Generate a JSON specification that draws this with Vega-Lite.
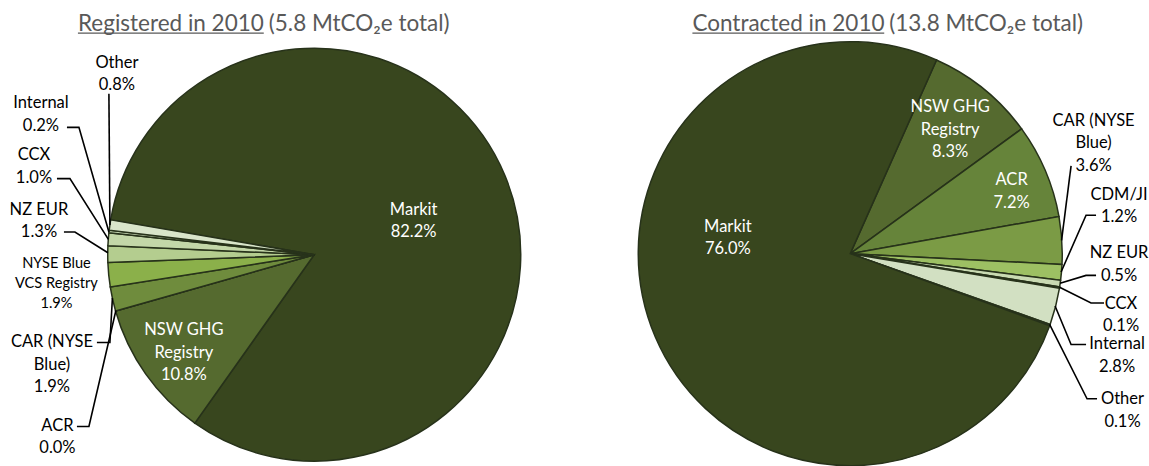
{
  "$schema": "https://vega.github.io/schema/vega-lite/v6.json",
  "width": 1149,
  "height": 466,
  "padding": 0,
  "autosize": {"type": "fit", "contains": "padding"},
  "background": "white",
  "config": {"view": {"stroke": null}},
  "datasets": {
    "registered": [
      {"registry": "Markit", "share": 82.2, "rank": 1},
      {"registry": "NSW GHG Registry", "share": 10.8, "rank": 2},
      {"registry": "ACR", "share": 0.0, "rank": 3},
      {"registry": "CAR (NYSE Blue)", "share": 1.9, "rank": 4},
      {"registry": "NYSE Blue VCS Registry", "share": 1.9, "rank": 5},
      {"registry": "NZ EUR", "share": 1.3, "rank": 6},
      {"registry": "CCX", "share": 1.0, "rank": 7},
      {"registry": "Internal", "share": 0.2, "rank": 8},
      {"registry": "Other", "share": 0.8, "rank": 9}
    ],
    "contracted": [
      {"registry": "NSW GHG Registry", "share": 8.3, "rank": 1},
      {"registry": "ACR", "share": 7.2, "rank": 2},
      {"registry": "CAR (NYSE Blue)", "share": 3.6, "rank": 3},
      {"registry": "CDM/JI", "share": 1.2, "rank": 4},
      {"registry": "NZ EUR", "share": 0.5, "rank": 5},
      {"registry": "CCX", "share": 0.1, "rank": 6},
      {"registry": "Internal", "share": 2.8, "rank": 7},
      {"registry": "Other", "share": 0.1, "rank": 8},
      {"registry": "Markit", "share": 76.0, "rank": 9}
    ],
    "labels": [
      {"label": "Markit\n82.2%", "x": 414, "y": 212.5, "kind": "inside"},
      {"label": "NSW GHG\nRegistry\n10.8%", "x": 184, "y": 334.5, "kind": "inside"},
      {"label": "Other\n0.8%", "x": 117, "y": 63.5, "kind": "outside"},
      {"label": "Internal\n0.2%", "x": 41, "y": 104.5, "kind": "outside"},
      {"label": "CCX\n1.0%", "x": 34, "y": 157.5, "kind": "outside"},
      {"label": "NZ EUR\n1.3%", "x": 39, "y": 212.5, "kind": "outside"},
      {"label": "NYSE Blue\nVCS Registry\n1.9%", "x": 56.5, "y": 267.5, "kind": "small"},
      {"label": "CAR (NYSE\nBlue)\n1.9%", "x": 52, "y": 346.5, "kind": "outside"},
      {"label": "ACR\n0.0%", "x": 57.5, "y": 431.5, "kind": "outside"},
      {"label": "Markit\n76.0%", "x": 728.5, "y": 229.5, "kind": "inside"},
      {"label": "NSW GHG\nRegistry\n8.3%", "x": 951, "y": 108.5, "kind": "inside"},
      {"label": "ACR\n7.2%", "x": 1012.5, "y": 182.5, "kind": "inside"},
      {"label": "CAR (NYSE\nBlue)\n3.6%", "x": 1094.5, "y": 122.5, "kind": "outside"},
      {"label": "CDM/JI\n1.2%", "x": 1120, "y": 197.5, "kind": "outside"},
      {"label": "NZ EUR\n0.5%", "x": 1120, "y": 256.5, "kind": "outside"},
      {"label": "CCX\n0.1%", "x": 1122, "y": 307.5, "kind": "outside"},
      {"label": "Internal\n2.8%", "x": 1118, "y": 348.5, "kind": "outside"},
      {"label": "Other\n0.1%", "x": 1123.5, "y": 404.5, "kind": "outside"}
    ],
    "leaders": [
      {"id": "L-Other", "i": 1, "x": 109, "y": 95},
      {"id": "L-Other", "i": 2, "x": 110, "y": 228},
      {"id": "L-Internal", "i": 1, "x": 67, "y": 129},
      {"id": "L-Internal", "i": 2, "x": 79, "y": 129},
      {"id": "L-Internal", "i": 3, "x": 109, "y": 235},
      {"id": "L-CCX", "i": 1, "x": 57, "y": 181},
      {"id": "L-CCX", "i": 2, "x": 70, "y": 181},
      {"id": "L-CCX", "i": 3, "x": 108.5, "y": 242.5},
      {"id": "L-NZ", "i": 1, "x": 64, "y": 235},
      {"id": "L-NZ", "i": 2, "x": 75, "y": 235},
      {"id": "L-NZ", "i": 3, "x": 108, "y": 256},
      {"id": "L-CAR", "i": 1, "x": 97, "y": 347},
      {"id": "L-CAR", "i": 2, "x": 110, "y": 347},
      {"id": "L-CAR", "i": 3, "x": 112.5, "y": 302},
      {"id": "L-ACR", "i": 1, "x": 77, "y": 432},
      {"id": "L-ACR", "i": 2, "x": 89, "y": 432},
      {"id": "L-ACR", "i": 3, "x": 116, "y": 314.5},
      {"id": "R-CAR", "i": 1, "x": 1072, "y": 168},
      {"id": "R-CAR", "i": 2, "x": 1062.5, "y": 243.5},
      {"id": "R-CDM", "i": 1, "x": 1097, "y": 218},
      {"id": "R-CDM", "i": 2, "x": 1087, "y": 218},
      {"id": "R-CDM", "i": 3, "x": 1062, "y": 275.5},
      {"id": "R-NZ", "i": 1, "x": 1097, "y": 279},
      {"id": "R-NZ", "i": 2, "x": 1087, "y": 279},
      {"id": "R-NZ", "i": 3, "x": 1061, "y": 287},
      {"id": "R-CCX", "i": 1, "x": 1060.5, "y": 291},
      {"id": "R-CCX", "i": 2, "x": 1092, "y": 307},
      {"id": "R-CCX", "i": 3, "x": 1105, "y": 307},
      {"id": "R-Internal", "i": 1, "x": 1056, "y": 310},
      {"id": "R-Internal", "i": 2, "x": 1072, "y": 349},
      {"id": "R-Internal", "i": 3, "x": 1087, "y": 349},
      {"id": "R-Other", "i": 1, "x": 1050.5, "y": 328.5},
      {"id": "R-Other", "i": 2, "x": 1088, "y": 404},
      {"id": "R-Other", "i": 3, "x": 1098, "y": 404}
    ],
    "titles": [
      {"t": "Registered in 2010", "x": 78, "x2": 264, "y": 31, "uy": 33.5, "u": true},
      {"t": "(5.8 MtCO₂e total)", "x": 269, "y": 31, "u": false},
      {"t": "Contracted in 2010", "x": 693, "x2": 885, "y": 31, "uy": 33.5, "u": true},
      {"t": "(13.8 MtCO₂e total)", "x": 890, "y": 31, "u": false}
    ]
  },
  "layer": [
    {
      "data": {"name": "registered"},
      "mark": {"type": "arc", "outerRadius": 206.5, "stroke": "#27321a", "strokeWidth": 1.5},
      "encoding": {
        "x": {"datum": 314.5, "type": "quantitative", "scale": {"domain": [0, 1149], "nice": false, "zero": false}, "axis": null},
        "y": {"datum": 258, "type": "quantitative", "scale": {"domain": [0, 466], "nice": false, "zero": false, "reverse": true}, "axis": null},
        "theta": {"field": "share", "type": "quantitative", "stack": true, "scale": {"range": [4.8817, 11.1649]}},
        "order": {"field": "rank", "type": "quantitative"},
        "color": {
          "field": "registry", "type": "nominal", "legend": null,
          "scale": {
            "domain": ["Markit", "NSW GHG Registry", "ACR", "CAR (NYSE Blue)", "NYSE Blue VCS Registry", "NZ EUR", "CCX", "Internal", "Other"],
            "range": ["#38461e", "#556a2f", "#66843a", "#6f8c3d", "#8bb04a", "#b4cd8f", "#c3d7a8", "#cddeb9", "#d9e5ca"]
          }
        }
      }
    },
    {
      "data": {"name": "contracted"},
      "mark": {"type": "arc", "outerRadius": 212, "stroke": "#27321a", "strokeWidth": 1.5},
      "encoding": {
        "x": {"datum": 851, "type": "quantitative"},
        "y": {"datum": 257, "type": "quantitative"},
        "theta": {"field": "share", "type": "quantitative", "stack": true, "scale": {"range": [0.41888, 6.70206]}},
        "order": {"field": "rank", "type": "quantitative"},
        "color": {
          "field": "registry", "type": "nominal", "legend": null,
          "scale": {
            "domain": ["Markit", "NSW GHG Registry", "ACR", "CAR (NYSE Blue)", "CDM/JI", "NZ EUR", "CCX", "Internal", "Other"],
            "range": ["#38461e", "#556a2f", "#66843a", "#7b9b45", "#9dc063", "#c9dab2", "#bfd3a0", "#d2e0c2", "#dde8d0"]
          }
        }
      }
    },
    {
      "data": {"name": "leaders"},
      "mark": {"type": "line", "stroke": "#000000", "strokeWidth": 1.6, "strokeJoin": "miter", "interpolate": "linear"},
      "encoding": {
        "x": {"field": "x", "type": "quantitative"},
        "y": {"field": "y", "type": "quantitative"},
        "detail": {"field": "id", "type": "nominal"},
        "order": {"field": "i", "type": "quantitative"}
      }
    },
    {
      "data": {"name": "labels"},
      "transform": [{"filter": "datum.kind == 'inside'"}],
      "mark": {"type": "text", "lineBreak": "\n", "lineHeight": 22.5, "font": "Lato", "fontSize": 16.5, "align": "center", "baseline": "middle", "color": "#ffffff"},
      "encoding": {
        "x": {"field": "x", "type": "quantitative"},
        "y": {"field": "y", "type": "quantitative"},
        "text": {"field": "label", "type": "nominal"}
      }
    },
    {
      "data": {"name": "labels"},
      "transform": [{"filter": "datum.kind == 'outside'"}],
      "mark": {"type": "text", "lineBreak": "\n", "lineHeight": 22.5, "font": "Lato", "fontSize": 16.5, "align": "center", "baseline": "middle", "color": "#000000"},
      "encoding": {
        "x": {"field": "x", "type": "quantitative"},
        "y": {"field": "y", "type": "quantitative"},
        "text": {"field": "label", "type": "nominal"}
      }
    },
    {
      "data": {"name": "labels"},
      "transform": [{"filter": "datum.kind == 'small'"}],
      "mark": {"type": "text", "lineBreak": "\n", "lineHeight": 20, "font": "Lato", "fontSize": 14.6, "align": "center", "baseline": "middle", "color": "#000000"},
      "encoding": {
        "x": {"field": "x", "type": "quantitative"},
        "y": {"field": "y", "type": "quantitative"},
        "text": {"field": "label", "type": "nominal"}
      }
    },
    {
      "data": {"name": "titles"},
      "mark": {"type": "text", "font": "Lato", "fontSize": 22.5, "align": "left", "baseline": "alphabetic", "color": "#595959"},
      "encoding": {
        "x": {"field": "x", "type": "quantitative"},
        "y": {"field": "y", "type": "quantitative"},
        "text": {"field": "t", "type": "nominal"}
      }
    },
    {
      "data": {"name": "titles"},
      "transform": [{"filter": "datum.u"}],
      "mark": {"type": "rule", "color": "#595959", "strokeWidth": 1.3},
      "encoding": {
        "x": {"field": "x", "type": "quantitative"},
        "x2": {"field": "x2"},
        "y": {"field": "uy", "type": "quantitative"}
      }
    }
  ],
  "resolve": {"scale": {"theta": "independent", "color": "independent"}}
}
